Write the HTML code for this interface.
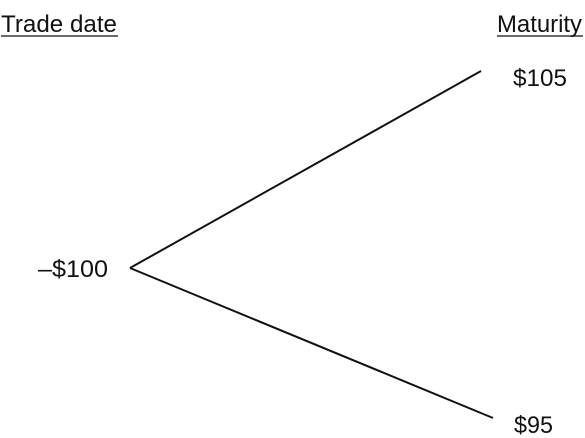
<!DOCTYPE html>
<html><head><meta charset="utf-8"><style>
html,body{margin:0;padding:0;background:#fff;}
svg{display:block;}
text{font-family:"Liberation Sans",sans-serif;font-size:24px;fill:#111;}
</style></head><body>
<svg width="585" height="438" viewBox="0 0 585 438">
<text x="1" y="32" textLength="116" lengthAdjust="spacingAndGlyphs">Trade date</text>
<line x1="1" y1="36" x2="118" y2="36" stroke="#111" stroke-width="1.3"/>
<text x="497" y="32" textLength="85" lengthAdjust="spacingAndGlyphs">Maturity</text>
<line x1="497" y1="36" x2="583" y2="36" stroke="#111" stroke-width="1.3"/>
<line x1="130" y1="268" x2="481" y2="71" stroke="#111" stroke-width="2"/>
<line x1="130" y1="268" x2="493" y2="418" stroke="#111" stroke-width="2"/>
<text x="38" y="277" textLength="70" lengthAdjust="spacingAndGlyphs">–$100</text>
<text x="513" y="86" textLength="54" lengthAdjust="spacingAndGlyphs">$105</text>
<text x="514" y="433" textLength="39" lengthAdjust="spacingAndGlyphs">$95</text>
</svg>
</body></html>
